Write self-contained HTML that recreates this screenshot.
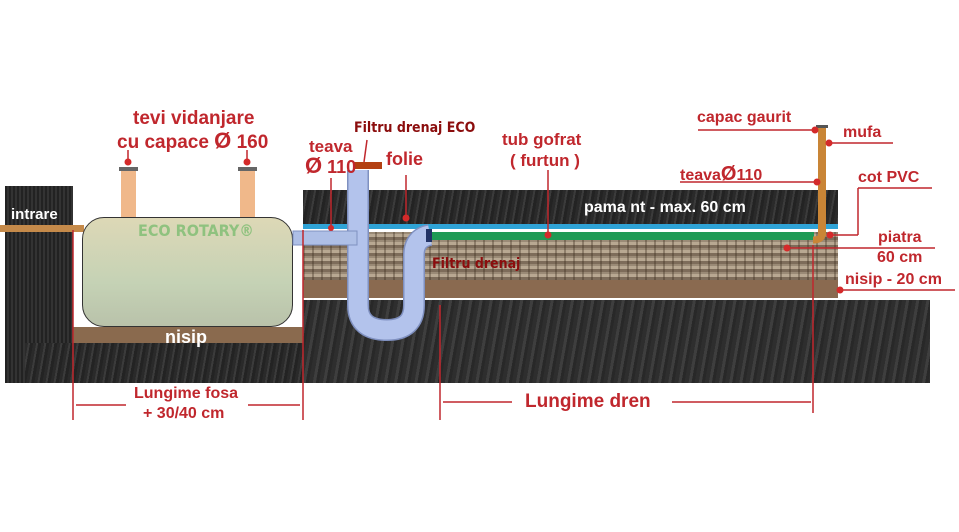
<!DOCTYPE html>
<html><head><meta charset="utf-8"><style>
body{margin:0;width:959px;height:532px;background:#fff;position:relative;overflow:hidden;font-family:"Liberation Sans",Arial,sans-serif}
.a{position:absolute}
.t{position:absolute;color:#c0272d;font-weight:bold;white-space:nowrap;line-height:1}
.w{position:absolute;color:#fff;font-weight:bold;white-space:nowrap;line-height:1}
.dk{background:repeating-linear-gradient(100deg,#2a2a2a 0 3px,#3b3b3b 3px 5px,#232323 5px 8px)}
</style></head><body>
<!-- left earth -->
<div class="a dk" style="left:5px;top:186px;width:68px;height:197px;background:repeating-linear-gradient(90deg,#222 0 2px,#333 2px 4px)"></div>
<div class="a dk" style="left:25px;top:343px;width:278px;height:40px"></div>
<div class="a" style="left:73px;top:327px;width:230px;height:16px;background:#8a6a4e"></div>
<!-- right earth -->
<div class="a dk" style="left:303px;top:190px;width:535px;height:35px"></div>
<div class="a" style="left:303px;top:224px;width:535px;height:5px;background:#2fa3d6"></div>
<div class="a" style="left:303px;top:229px;width:535px;height:3px;background:#fff"></div>
<div class="a" style="left:303px;top:232px;width:535px;height:48px;background:repeating-linear-gradient(90deg,rgba(60,45,30,.35) 0 2px,transparent 2px 9px),repeating-linear-gradient(0deg,#7d6c5a 0 3px,#b8a892 3px 6px,#9a8a76 6px 8px)"></div>
<div class="a" style="left:303px;top:280px;width:535px;height:18px;background:#8a6a50"></div>
<div class="a dk" style="left:303px;top:300px;width:627px;height:83px;background:repeating-linear-gradient(100deg,#2e2e2e 0 4px,#3e3e3e 4px 7px,#282828 7px 10px)"></div>
<div class="a" style="left:432px;top:232px;width:382px;height:8px;background:#1f9a55"></div>
<!-- tank -->
<div class="a" style="left:0;top:225px;width:84px;height:7px;background:#c58a4a"></div>
<div class="a" style="left:121px;top:170px;width:15px;height:48px;background:#f0b88a"></div>
<div class="a" style="left:240px;top:170px;width:15px;height:48px;background:#f0b88a"></div>
<div class="a" style="left:119px;top:167px;width:19px;height:4px;background:#666"></div>
<div class="a" style="left:238px;top:167px;width:19px;height:4px;background:#666"></div>
<div class="a" style="left:82px;top:217px;width:211px;height:110px;border:1.5px solid #333;border-radius:22px;box-sizing:border-box;background:linear-gradient(#ddd8b6,#c5d2b5 60%,#b9c2aa)"></div>
<div class="a" style="left:138px;top:221px;color:#8fc27f;font-weight:bold;font-size:16px;font-family:'DejaVu Sans Condensed','DejaVu Sans',sans-serif">ECO ROTARY®</div>
<div class="w" style="left:165px;top:328px;font-size:18px">nisip</div>
<div class="w" style="left:11px;top:207px;font-size:15px">intrare</div>
<!-- pipes -->
<svg class="a" style="left:0;top:0" width="959" height="532">
<path d="M358 170 V305 Q358 330 387 330 Q414 330 414 305 V255 Q414 238 430 235" fill="none" stroke="#7f90c0" stroke-width="22"/>
<path d="M358 170 V305 Q358 330 387 330 Q414 330 414 305 V255 Q414 238 430 235" fill="none" stroke="#b3c3ec" stroke-width="19"/>
<rect x="293" y="231" width="64" height="14" fill="#aebfe6" stroke="#7f90c0"/>
<rect x="426" y="229" width="6" height="13" fill="#223366"/>
<rect x="354" y="162" width="28" height="7" fill="#b34012"/>
<rect x="818" y="128" width="8" height="108" fill="#c98536"/>
<path d="M822 234 Q822 240 813 240" stroke="#c98536" stroke-width="7" fill="none"/>
<rect x="816" y="125" width="12" height="3" fill="#555"/>
<g stroke="#c0272d" stroke-width="1.5" fill="none">
<line x1="73" y1="230" x2="73" y2="420"/><line x1="303" y1="230" x2="303" y2="420"/>
<line x1="76" y1="405" x2="126" y2="405"/><line x1="248" y1="405" x2="300" y2="405"/>
<line x1="440" y1="305" x2="440" y2="420"/><line x1="813" y1="245" x2="813" y2="413"/>
<line x1="443" y1="402" x2="512" y2="402"/><line x1="672" y1="402" x2="811" y2="402"/>
<line x1="128" y1="150" x2="128" y2="162"/><line x1="247" y1="150" x2="247" y2="162"/>
<line x1="331" y1="178" x2="331" y2="228"/><line x1="406" y1="175" x2="406" y2="217"/>
<line x1="548" y1="170" x2="548" y2="234"/><line x1="367" y1="140" x2="364" y2="162"/>
<line x1="698" y1="130" x2="815" y2="130"/><line x1="830" y1="143" x2="893" y2="143"/>
<line x1="680" y1="182" x2="817" y2="182"/><line x1="830" y1="235" x2="858" y2="235"/><line x1="858" y1="235" x2="858" y2="188"/><line x1="858" y1="188" x2="932" y2="188"/>
<line x1="790" y1="248" x2="935" y2="248"/><line x1="840" y1="290" x2="955" y2="290"/>
</g>
<g fill="#d42a2a"><circle cx="128" cy="162" r="3.5"/><circle cx="247" cy="162" r="3.5"/><circle cx="331" cy="228" r="3"/><circle cx="406" cy="218" r="3.5"/><circle cx="548" cy="235" r="3.5"/><circle cx="815" cy="130" r="3.5"/><circle cx="829" cy="143" r="3.5"/><circle cx="817" cy="182" r="3.5"/><circle cx="830" cy="235" r="3.5"/><circle cx="787" cy="248" r="3.5"/><circle cx="840" cy="290" r="3.5"/></g>
</svg>
<!-- labels -->
<div class="t" style="left:133px;top:109px;font-size:19px">tevi vidanjare</div>
<div class="t" style="left:117px;top:130px;font-size:19px">cu capace <span style="font-size:22px">Ø</span> 160</div>
<div class="t" style="left:309px;top:138px;font-size:17px">teava</div>
<div class="t" style="left:305px;top:155px;font-size:18px"><span style="font-size:22px">Ø</span> 110</div>
<div class="t" style="left:354px;top:121px;font-size:14px;color:#8b0d0d;font-family:'DejaVu Sans Condensed','DejaVu Sans',sans-serif">Filtru drenaj ECO</div>
<div class="t" style="left:386px;top:150px;font-size:18px">folie</div>
<div class="t" style="left:502px;top:131px;font-size:17px">tub gofrat</div>
<div class="t" style="left:510px;top:152px;font-size:17px">( furtun )</div>
<div class="t" style="left:432px;top:257px;font-size:14px;color:#8b0d0d;font-family:'DejaVu Sans Condensed','DejaVu Sans',sans-serif">Filtru drenaj</div>
<div class="w" style="left:584px;top:200px;font-size:16px">pama nt - max. 60 cm</div>
<div class="t" style="left:697px;top:110px;font-size:16px">capac gaurit</div>
<div class="t" style="left:843px;top:125px;font-size:16px">mufa</div>
<div class="t" style="left:680px;top:164px;font-size:16px">teava<span style="font-size:20px">Ø</span>110</div>
<div class="t" style="left:858px;top:170px;font-size:16px">cot PVC</div>
<div class="t" style="left:878px;top:230px;font-size:16px">piatra</div>
<div class="t" style="left:877px;top:250px;font-size:16px">60 cm</div>
<div class="t" style="left:845px;top:272px;font-size:16px">nisip - 20 cm</div>
<div class="t" style="left:134px;top:386px;font-size:16px">Lungime fosa</div>
<div class="t" style="left:143px;top:406px;font-size:16px">+ 30/40 cm</div>
<div class="t" style="left:525px;top:392px;font-size:19px">Lungime dren</div>
</body></html>
